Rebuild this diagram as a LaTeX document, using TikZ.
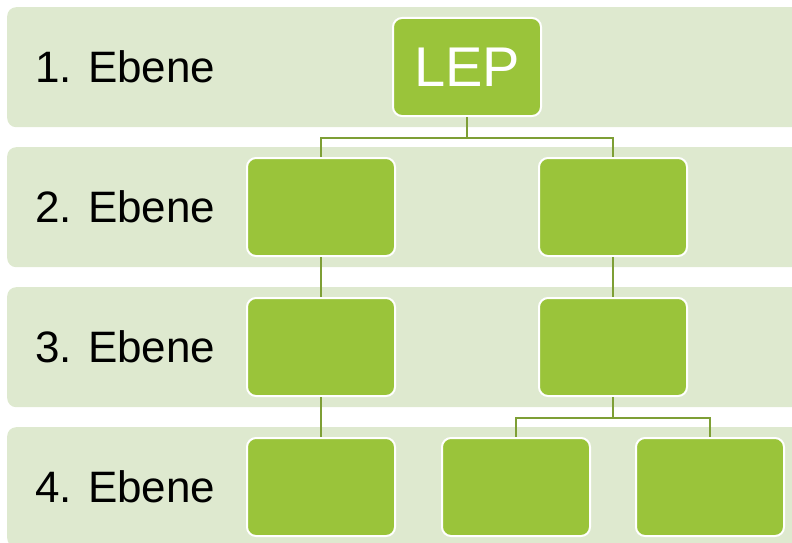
\documentclass[tikz,border=0pt]{standalone}
\usepackage{fontspec}
\setmainfont{Liberation Sans}
\usetikzlibrary{calc,positioning}
\definecolor{bandgreen}{HTML}{DEE9CF}
\definecolor{boxgreen}{HTML}{9AC43A}
\definecolor{linegreen}{HTML}{7E9F35}
\tikzset{%
    band/.style={%
        rectangle, rounded corners=9pt, fill=bandgreen, minimum width=800pt, minimum height=120pt, anchor=north west, inner sep=0pt
    },
    level_label/.style={%
        anchor=base west, inner sep=0pt, font=\fontsize{44}{50}\selectfont
    },
    unit/.style={%
        rectangle, rounded corners=9pt, fill=boxgreen, draw=white, line width=2pt, minimum width=148pt, minimum height=98pt, inner sep=0pt
    },
    link/.style={%
        draw=linegreen, line width=2.5pt
    },
}

\begin{document}
\begin{tikzpicture}[x=1pt,y=-1pt]
    \useasboundingbox (0,0) rectangle (792,543);
    \clip (0,0) rectangle (792,543);

    % bands with level names
    \foreach \x in {1,2,...,4}
        \pgfmathparse{7+(\x-1)*140}
        \edef\position{\pgfmathresult}
        \node[band] (band\x) at (7,\position) {};
    \foreach \x in {1,2,...,4}
        \pgfmathparse{82+(\x-1)*140}
        \edef\position{\pgfmathresult}
        \node[level_label] (label\x) at (35,\position) {\x. Ebene};

    % boxes
    \node[unit,text=white,font=\fontsize{56}{60}\selectfont] (lep) at (467,67) {LEP};
    \node[unit] (b21) at (321,207) {};
    \node[unit] (b22) at (613,207) {};
    \node[unit] (b31) at (321,347) {};
    \node[unit] (b32) at (613,347) {};
    \node[unit] (b41) at (321,487) {};
    \node[unit] (b42) at (516,487) {};
    \node[unit] (b43) at (710,487) {};

    % connectors
    \coordinate (j1) at ($(lep.south)+(0,21)$);
    \coordinate (j3) at ($(b32.south)+(0,21)$);
    \draw[link] (lep.south) -- (j1) -| (b21.north);
    \draw[link] (j1) -| (b22.north);
    \draw[link] (b21.south) -- (b31.north);
    \draw[link] (b22.south) -- (b32.north);
    \draw[link] (b31.south) -- (b41.north);
    \draw[link] (b32.south) -- (j3) -| (b42.north);
    \draw[link] (j3) -| (b43.north);
\end{tikzpicture}
\end{document}
